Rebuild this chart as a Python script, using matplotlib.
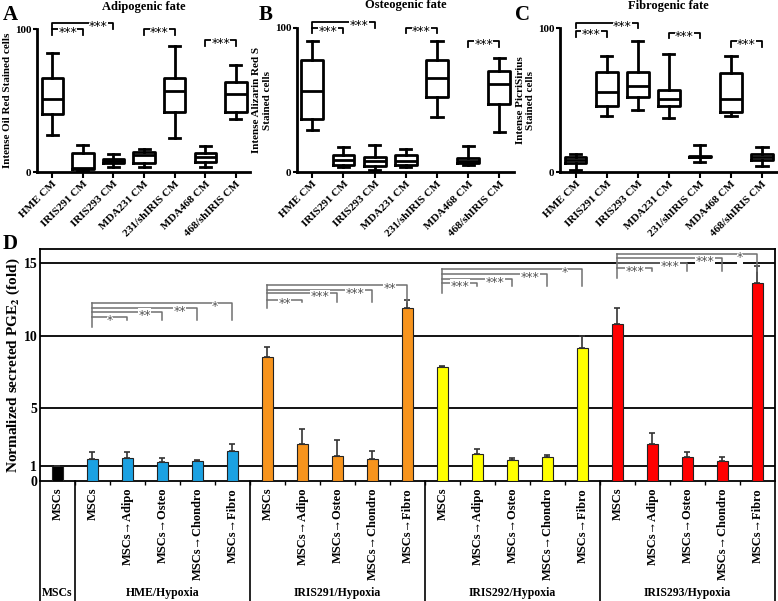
import numpy as np
import matplotlib.pyplot as plt
from matplotlib import transforms

plt.rcParams['font.family'] = ['Liberation Serif', 'DejaVu Serif']
plt.rcParams['font.weight'] = 'bold'
plt.rcParams['mathtext.fontset'] = 'stix'

# ---- panels A-C: box plots (whisker low, Q1, median, Q3, whisker high)
box_labels = ['HME CM', 'IRIS291 CM', 'IRIS293 CM', 'MDA231 CM',
              '231/shIRIS CM', 'MDA468 CM', '468/shIRIS CM']

adipo_lo = [26, 1, 3.7, 4, 24, 4, 37]
adipo_q1 = [41, 2, 6.3, 6.3, 42, 7, 42]
adipo_med = [51, 3, 7.9, 12, 57, 10.5, 55]
adipo_q3 = [66, 13.3, 9.6, 14.5, 66, 13.8, 63]
adipo_hi = [83, 19, 12.8, 16, 88, 18.4, 75]

osteo_lo = [29, 3.5, 1.6, 3.9, 38, 5.1, 28]
osteo_q1 = [37, 5.1, 4.4, 5.3, 52, 6.7, 47.5]
osteo_med = [56, 8.5, 7.6, 8.1, 65, 8.1, 61]
osteo_q3 = [78, 12, 10.8, 11.8, 78, 9.7, 70]
osteo_hi = [91, 17.7, 18.7, 15.9, 91, 18.2, 79]

fibro_lo = [1.6, 39, 43, 38, 7.4, 39, 4.4]
fibro_q1 = [6.7, 46, 52, 46, 10.4, 42, 8.6]
fibro_med = [8.6, 56, 60, 51, 10.9, 51, 10.9]
fibro_q3 = [10.4, 70, 70, 57, 11.4, 69, 12.5]
fibro_hi = [12.5, 81, 91, 82, 18.8, 81, 17.8]

sig_pairs = [(0, 1), (0, 2), (3, 4), (5, 6)]
adipo_sig = [100, 104, 100, 92]
osteo_sig = [100, 104, 100, 91]
fibro_sig = [98, 104, 97, 91]

# ---- panel D: PGE2 bars
pge_labels = ['MSCs'] + ['MSCs', 'MSCs→Adipo', 'MSCs→Osteo',
                         'MSCs→Chondro', 'MSCs→Fibro'] * 4
pge_groups = ['MSCs', 'HME/Hypoxia', 'IRIS291/Hypoxia',
              'IRIS292/Hypoxia', 'IRIS293/Hypoxia']
group_sizes = [1, 5, 5, 5, 5]
group_colors = ['#000000', '#1ba1e2', '#f7941d', '#ffff00', '#ff0000']
pge_mean = [1.0,
            1.52, 1.57, 1.29, 1.36, 2.07,
            8.57, 2.57, 1.72, 1.52, 11.91,
            7.88, 1.88, 1.47, 1.68, 9.19,
            10.8, 2.53, 1.66, 1.38, 13.63]
pge_err = [0.0,
           0.45, 0.40, 0.32, 0.11, 0.50,
           0.65, 1.04, 1.10, 0.55, 0.57,
           0.07, 0.32, 0.09, 0.13, 0.83,
           1.15, 0.76, 0.32, 0.28, 1.22]

# significance brackets in D: one reference bar per group vs the 4 others
pge_sig_src = [1, 6, 11, 16]
pge_sig_labels = [['*', '**', '**', '*'],
                  ['**', '***', '***', '**'],
                  ['***', '***', '***', '*'],
                  ['***', '***', '***', '*']]
pge_sig_y = [[11.3, 11.68, 11.95, 12.3],
             [12.5, 12.94, 13.17, 13.5],
             [13.68, 13.9, 14.3, 14.6],
             [14.67, 15.0, 15.36, 15.65]]
pge_sig_base = [10.6, 11.9, 12.94, 14.0]
pge_sig_drop = [11.1, 12.35, 13.45, 14.5]


def box_panel(ax, lo, q1, med, q3, hi, sig_y, title, ylabel):
    stats = []
    for a, b, c, d, e in zip(lo, q1, med, q3, hi):
        stats.append(dict(whislo=a, q1=b, med=c, q3=d, whishi=e, fliers=[]))
    ax.bxp(stats, positions=range(len(stats)), widths=0.7, capwidths=0.36,
           showfliers=False,
           boxprops=dict(color='k', lw=2),
           whiskerprops=dict(color='k', lw=2),
           capprops=dict(color='k', lw=2),
           medianprops=dict(color='k', lw=2))
    ax.set_xlim(-0.5, 6.47)
    ax.set_ylim(0, 100)
    ax.spines[['top', 'right']].set_visible(False)
    ax.spines[['left', 'bottom']].set_linewidth(2)
    ax.set_yticks([0, 100])
    ax.tick_params(axis='y', labelsize=8, length=3, width=1.5, pad=1)
    ax.tick_params(axis='x', length=4, width=1.5, pad=1)
    ax.set_xticks(range(len(box_labels)))
    ax.set_xticklabels(box_labels, rotation=45, ha='right',
                       rotation_mode='anchor', fontsize=8)
    ax.set_title(title, fontsize=9, fontweight='bold', pad=14)
    ax.set_ylabel(ylabel, fontsize=8, fontweight='bold', labelpad=2)
    for (i, j), y in zip(sig_pairs, sig_y):
        ax.plot([i, i, j, j], [y - 4, y, y, y - 4], color='k', lw=1.3,
                clip_on=False)
        xt = (i + j) / 2 if j - i == 1 else j - 0.5
        ax.annotate('***', (xt, y), xytext=(0, -2.5),
                    textcoords='offset points', ha='center', va='center',
                    fontsize=9, family='DejaVu Sans', fontweight='normal',
                    annotation_clip=False,
                    bbox=dict(fc='white', ec='none', pad=0.2))


fig = plt.figure(figsize=(7.78, 6.01), dpi=100)

axA = fig.add_axes([0.0476, 0.7133, 0.274, 0.2384])
axB = fig.add_axes([0.3814, 0.7133, 0.2793, 0.2406])
axC = fig.add_axes([0.7198, 0.7133, 0.2785, 0.2396])
box_panel(axA, adipo_lo, adipo_q1, adipo_med, adipo_q3, adipo_hi, adipo_sig,
          'Adipogenic fate', 'Intense Oil Red Stained cells')
box_panel(axB, osteo_lo, osteo_q1, osteo_med, osteo_q3, osteo_hi, osteo_sig,
          'Osteogenic fate', 'Intense Alizarin Red S\nStained cells')
box_panel(axC, fibro_lo, fibro_q1, fibro_med, fibro_q3, fibro_hi, fibro_sig,
          'Fibrogenic fate', 'Intense PicriSirius\nStained cells')

# ---- panel D
axD = fig.add_axes([0.0514, 0.1997, 0.9447, 0.386])
x = np.arange(len(pge_mean))
colors = []
for col, n in zip(group_colors, group_sizes):
    colors += [col] * n
for h in [1, 5, 10, 15]:
    axD.axhline(h, color='k', lw=1.3, zorder=1)
axD.bar(x, pge_mean, width=0.33, color=colors, edgecolor='#222222',
        linewidth=0.8, zorder=3)
axD.errorbar(x, pge_mean, yerr=[np.zeros(len(x)), pge_err], fmt='none',
             ecolor='#333333', elinewidth=1.2, capsize=2.5, capthick=1.2,
             zorder=4)
axD.set_xlim(-0.5, 20.5)
axD.set_ylim(0, 16)
axD.set_yticks([0, 1, 5, 10, 15])
axD.tick_params(axis='y', labelsize=10, length=0, pad=2)
axD.set_xticks(x)
axD.set_xticklabels(pge_labels, rotation=90, fontsize=9, va='top')
axD.tick_params(axis='x', length=0, pad=5)
axD.set_xticks(np.arange(0.5, 20, 1), minor=True)
axD.tick_params(axis='x', which='minor', length=3, width=1)
for s in axD.spines.values():
    s.set_linewidth(1.3)
axD.set_ylabel(r'Normalized secreted PGE$_\mathbf{2}$ (fold)', fontsize=11,
               fontweight='bold', labelpad=1)

gc = '#707070'
for src, labs, ys, base, drop in zip(pge_sig_src, pge_sig_labels, pge_sig_y,
                                     pge_sig_base, pge_sig_drop):
    axD.plot([src, src], [base, ys[-1]], color=gc, lw=1.1, zorder=5)
    for k, (lab, y) in enumerate(zip(labs, ys)):
        t = src + k + 1
        axD.plot([src, t, t], [y, y, drop], color=gc, lw=1.1, zorder=5)
        axD.annotate(lab, (t - 0.5, y), xytext=(0, -2.5),
                     textcoords='offset points', ha='center', va='center',
                     fontsize=9, family='DejaVu Sans', fontweight='normal',
                     color='#555555', zorder=6,
                     bbox=dict(fc='white', ec='none', pad=0.2))

# group separators and names under the axis
trans = transforms.blended_transform_factory(axD.transData, axD.transAxes)
edges = np.concatenate([[-0.5], np.cumsum(group_sizes) - 0.5])
for e in edges:
    axD.plot([e, e], [0, -0.53], color='k', lw=1.2, transform=trans,
             clip_on=False)
for name, a, b in zip(pge_groups, edges[:-1], edges[1:]):
    axD.text((a + b) / 2, -0.483, name, transform=trans, ha='center',
             va='center', fontsize=8.5, fontweight='bold')

# panel letters
for letter, px, py in [('A', 0.004, 0.975), ('B', 0.332, 0.975),
                       ('C', 0.662, 0.975), ('D', 0.004, 0.594)]:
    fig.text(px, py, letter, fontsize=15, fontweight='bold', va='center')

fig.savefig('out.png', dpi=100)
